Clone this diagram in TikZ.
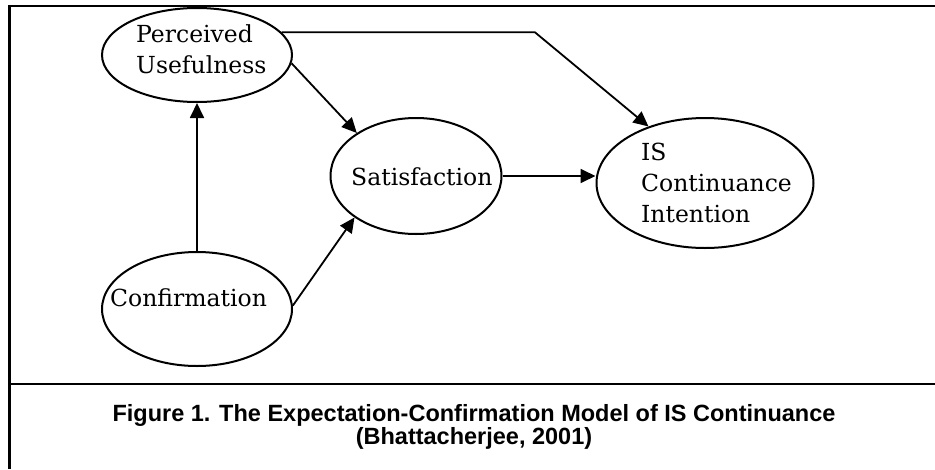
\documentclass[tikz,border=0pt]{standalone}
\usepackage{fontspec}
\setmainfont{DejaVu Serif}
\newfontfamily\capfont{Liberation Sans}
\usetikzlibrary{shapes.geometric,arrows.meta}
\begin{document}
\begin{tikzpicture}[x=1pt,y=-1pt,
  construct/.style={draw, ellipse, line width=2pt, inner sep=0pt},
  lbl/.style={inner sep=0pt, align=left, font=\fontsize{23.5}{31}\selectfont, anchor=base west},
  link/.style={line width=1.8pt, -{Triangle[length=15pt,width=14pt]}},
  frame/.style={line width=2.5pt}
]
\useasboundingbox (0,0) rectangle (935,469);
% frame
\coordinate (tl) at (9.5,6);
\coordinate (tr) at (935,6);
\coordinate (bl) at (9.5,469);
\coordinate (dl) at (9.5,384);
\coordinate (dr) at (935,384);
\draw[frame] (tr) -- (tl) -- (bl);
\draw[frame] (dl) -- (dr);
% constructs
\node[construct, minimum width=190pt, minimum height=94pt] (pu) at (197,55) {};
\node[construct, minimum width=171pt, minimum height=116pt] (sat) at (416,176) {};
\node[construct, minimum width=217pt, minimum height=130pt] (isc) at (705,183) {};
\node[construct, minimum width=190pt, minimum height=114pt] (conf) at (197,309) {};
% labels (anchored at the baseline of the last line)
\node[lbl] (tpu) at (136,73) {Perceived\\Usefulness};
\node[lbl] (tsat) at (351,185) {Satisfaction};
\node[lbl] (tisc) at (641,222) {IS\\Continuance\\Intention};
\node[lbl] (tconf) at (110,306) {Confirmation};
% connectors
\coordinate (bendx) at (535,0);
\draw[link] (conf.north) -- (pu.south);
\draw[link] (pu.-5) -- (sat.144);
\draw[link] (pu.15) -- (pu.15 -| bendx) -- (isc.135);
\draw[link] (sat.east) -- (sat.east -| isc.west);
\draw[link] (conf.2) -- (sat.214);
% caption
\node[inner sep=0pt, align=center, font=\capfont\bfseries\fontsize{23.5}{22.5}\selectfont, anchor=base] (cap) at (474,444)
  {Figure 1. The Expectation-Confirmation Model of IS Continuance\\(Bhattacherjee, 2001)};
\end{tikzpicture}
\end{document}
